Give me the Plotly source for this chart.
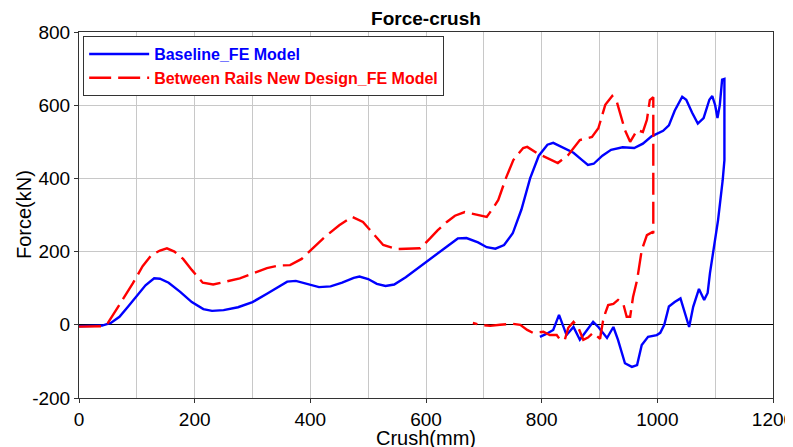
import plotly.graph_objects as go

# Baseline_FE Model (loading then unloading loop)
base_x = [0, 20, 40, 55, 70, 85, 100, 115, 130, 140, 155, 175, 195, 215, 230, 250, 275, 300, 325, 345,
          360, 375, 395, 415, 435, 455, 475, 485, 500, 515, 530, 545, 565, 590, 615, 640, 655, 670, 690, 705,
          720, 735, 750, 765, 780, 795, 810, 820, 835, 855, 870, 880, 890, 905, 920, 940, 960, 975, 990, 1010,
          1020, 1030, 1043, 1050, 1060, 1070, 1080, 1090, 1095, 1100, 1104, 1108, 1112, 1116,
          1116, 1113, 1105, 1097, 1091, 1087, 1081, 1072, 1066, 1062, 1055, 1048, 1040, 1030, 1020, 1012,
          1005, 999, 984, 973, 965, 956, 944, 932, 924, 913, 898, 889, 878, 866, 855, 843, 830, 820, 808, 797]
base_y = [-4, -4, -2, 5, 22, 50, 80, 108, 127, 126, 115, 90, 62, 43, 38, 40, 48, 62, 85, 105,
          118, 120, 112, 103, 105, 115, 128, 132, 125, 112, 106, 110, 130, 160, 190, 220, 236, 237, 225, 212,
          208, 218, 250, 315, 400, 462, 492, 497, 485, 470, 450, 437, 440, 462, 478, 485, 483, 495, 515, 530,
          545, 585, 623, 615, 580, 550, 565, 615, 625, 600, 565, 600, 670, 672,
          450, 395, 286, 204, 141, 87, 68, 98, 70, 49, -6, 32, 72, 62, 50, 0,
          -22, -28, -33, -55, -110, -115, -105, -41, -6, -36, -6, 8, -15, -41, -6, -28, 27, -14, -25, -33]

# Between Rails New Design_FE Model
new_x = [0, 20, 40, 50, 60, 75, 93, 110, 125, 140, 152, 165, 180, 195, 214, 232, 255, 278, 300, 325,
         345, 365, 385, 405, 425, 450, 472, 491, 508, 526, 550, 570, 590, 607, 620, 636, 650, 667, 688, 705,
         716, 725, 738, 751, 768, 775, 792, 809, 828, 846, 866, 887, 898, 910, 922, 930, 944, 953, 965, 975,
         982, 987, 993,
         993, 991, 982, 973, 965, 958, 953, 947, 941, 932, 924, 915, 910, 906, 901, 889, 880, 872, 864, 855,
         846, 840, 832, 826, 814, 803, 785, 775, 763, 748, 728, 711, 693, 681]
new_y = [-5, -5, -4, 5, 30, 65, 113, 160, 190, 203, 209, 200, 180, 150, 115, 110, 118, 127, 140, 155,
         162, 163, 180, 209, 240, 272, 295, 281, 250, 218, 207, 207, 209, 236, 258, 281, 298, 308, 300, 295,
         319, 341, 400, 450, 483, 486, 469, 456, 442, 464, 505, 513, 537, 601, 625, 609, 532, 500, 532, 527,
         560, 614, 622,
         250, 253, 245, 204, 122, 76, 22, 22, 58, 68, 57, 54, 32, 10, -38, -22, -35, -41, -10, 8,
         -8, -41, -41, -28, -28, -19, -22, -14, 0, 3, 0, -3, 0, 5]

x_ticks = [0, 200, 400, 600, 800, 1000, 1200]
y_ticks = [-200, 0, 200, 400, 600, 800]

FONT = "Arial, Liberation Sans, sans-serif"

fig = go.Figure()
fig.add_trace(go.Scatter(
    x=base_x, y=base_y, mode="lines",
    name="<b><span style='color:#0000ff'>Baseline_FE Model</span></b>",
    line=dict(color="#0000ff", width=2.4),
))
fig.add_trace(go.Scatter(
    x=new_x, y=new_y, mode="lines",
    name="<b><span style='color:#ff0000'>Between Rails New Design_FE Model</span></b>",
    line=dict(color="#ff0000", width=2.4, dash="22px,7px"),
))

# page has an 8px body margin; figure sized to fit the window after it
fig.update_layout(
    width=785, height=439,
    margin=dict(l=71, r=20, t=24, b=49),
    paper_bgcolor="white", plot_bgcolor="white",
    font=dict(family=FONT, size=20, color="black"),
    title=dict(text="<b>Force-crush</b>", x=0.5, xref="paper", xanchor="center",
               y=1 - 10 / 439, yref="container", yanchor="middle", font=dict(size=19)),
    showlegend=True,
    legend=dict(x=0.006, y=0.989, xanchor="left", yanchor="top",
                bordercolor="#333333", borderwidth=1, bgcolor="white",
                font=dict(size=16, family=FONT), itemwidth=60,
                tracegroupgap=0),
    annotations=[
        dict(text="Crush(mm)", x=0.5, y=-40 / 366, xref="paper", yref="paper",
             xanchor="center", yanchor="middle", showarrow=False, font=dict(size=20)),
        dict(text="Force(kN)", x=-55 / 694, y=0.5, xref="paper", yref="paper",
             xanchor="center", yanchor="middle", textangle=-90, showarrow=False,
             font=dict(size=20)),
    ],
)
fig.update_xaxes(
    range=[0, 1200], tickvals=x_ticks, ticktext=[str(v) for v in x_ticks],
    showgrid=True, gridcolor="#c8c8c8", gridwidth=1,
    minor=dict(dtick=100, showgrid=True, gridcolor="#c8c8c8", gridwidth=1),
    showline=True, linecolor="#333333", linewidth=1, mirror=True,
    ticks="outside", ticklen=4, tickcolor="#333333",
    zeroline=False, automargin=False, ticklabeloverflow="allow",
    tickfont=dict(size=19),
)
fig.update_yaxes(
    range=[-200, 800], tickvals=y_ticks, ticktext=[str(v) for v in y_ticks],
    showgrid=True, gridcolor="#c8c8c8", gridwidth=1,
    showline=True, linecolor="#333333", linewidth=1, mirror=True,
    ticks="outside", ticklen=4, tickcolor="#333333",
    zeroline=True, zerolinecolor="black", zerolinewidth=1,
    automargin=False,
    tickfont=dict(size=19),
)

fig.write_html("out.html")
